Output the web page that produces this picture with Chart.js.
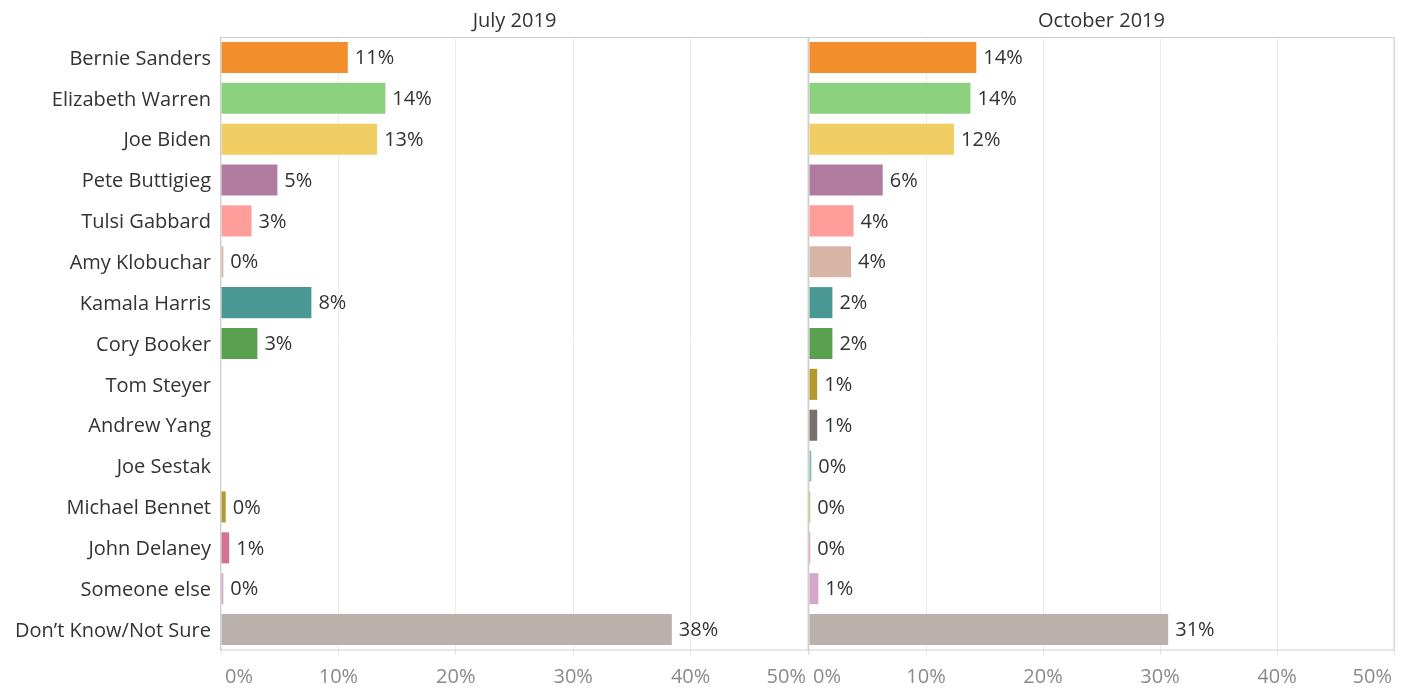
<!DOCTYPE html>
<html>
<head>
<meta charset="utf-8">
<script src="https://cdn.jsdelivr.net/npm/chart.js@4"></script>
<style>
  html, body { margin: 0; padding: 0; background: #fff; }
  #wrap { position: relative; width: 1408px; height: 688px; overflow: hidden; }
  #wrap canvas { position: absolute; top: 0; }
  #c1 { left: 0; }
  #c2 { left: 790px; }
</style>
</head>
<body>
<div id="wrap">
  <canvas id="c1" width="810" height="688"></canvas>
  <canvas id="c2" width="618" height="688"></canvas>
</div>
<script>
const categories = ["Bernie Sanders", "Elizabeth Warren", "Joe Biden", "Pete Buttigieg", "Tulsi Gabbard",
  "Amy Klobuchar", "Kamala Harris", "Cory Booker", "Tom Steyer", "Andrew Yang", "Joe Sestak",
  "Michael Bennet", "John Delaney", "Someone else", "Don\u2019t Know/Not Sure"];
const panelTitles = ["July 2019", "October 2019"];
const july2019 = [10.8, 14.0, 13.3, 4.8, 2.6, 0.2, 7.7, 3.1, null, null, null, 0.4, 0.7, 0.2, 38.4];
const october2019 = [14.3, 13.8, 12.4, 6.3, 3.8, 3.6, 2.0, 2.0, 0.7, 0.7, 0.2, 0.1, 0.1, 0.8, 30.7];
const xTicks = [0, 10, 20, 30, 40, 50];
const barColors = ["#F28E2B", "#8CD17D", "#F1CE63", "#B07AA1", "#FF9D9A", "#D7B5A6", "#499894",
  "#59A14F", "#B6992D", "#79706E", "#86BCB6", "#B6992D", "#D37295", "#D4A6C8", "#BAB0AC"];

const FONT = "'Open Sans', 'DejaVu Sans', sans-serif";

const panelPlugin = {
  id: 'panelDecor',
  beforeDatasetsDraw(chart) {
    const ctx = chart.ctx, a = chart.chartArea;
    ctx.save();
    ctx.strokeStyle = '#d0d0d0';
    ctx.lineWidth = 1;
    ctx.strokeRect(Math.round(a.left) - 0.5, Math.round(a.top) + 0.5, Math.round(a.right - a.left) + 0.5, Math.round(a.bottom - a.top) - 0.5);
    ctx.restore();
  },
  afterDraw(chart, args, opts) {
    const ctx = chart.ctx, a = chart.chartArea;
    const xs = chart.scales.x;
    ctx.save();
    // title
    ctx.fillStyle = '#333333';
    ctx.font = "20px " + FONT;
    ctx.textAlign = 'center';
    ctx.textBaseline = 'middle';
    ctx.fillText(opts.title, (a.left + a.right) / 2, 21);
    // x tick labels (clamped inside panel)
    ctx.fillStyle = '#8a8a8a';
    ctx.font = "20px " + FONT;
    xTicks.forEach(v => {
      const x = xs.getPixelForValue(v);
      const t = v + '%';
      const w = ctx.measureText(t).width;
      let tx = x, al = 'center';
      if (x - w / 2 < a.left + 2) { tx = a.left + 4; al = 'left'; }
      else if (x + w / 2 > a.right - 2) { tx = a.right - 2; al = 'right'; }
      ctx.textAlign = al;
      ctx.fillText(t, tx, 677);
    });
    // value labels
    ctx.fillStyle = '#333333';
    ctx.font = "20px " + FONT;
    ctx.textAlign = 'left';
    const meta = chart.getDatasetMeta(0);
    const data = chart.data.datasets[0].data;
    meta.data.forEach((bar, i) => {
      if (data[i] === null || data[i] === undefined) return;
      ctx.fillText(Math.round(data[i]) + '%', bar.x + 7, bar.y + 1);
    });
    ctx.restore();
  }
};

function makeChart(id, values, title, showYLabels, yWidth, pad) {
  return new Chart(document.getElementById(id), {
    type: 'bar',
    data: {
      labels: categories,
      datasets: [{ data: values, backgroundColor: barColors, borderWidth: 0,
        barPercentage: 0.76, categoryPercentage: 1.0 }]
    },
    options: {
      indexAxis: 'y',
      responsive: false,
      animation: false,
      layout: { padding: pad },
      plugins: { legend: { display: false }, tooltip: { enabled: false }, title: { display: false },
        panelDecor: { title: title } },
      scales: {
        x: {
          min: 0, max: 50,
          ticks: { display: false, stepSize: 10 },
          grid: { color: '#ececec', lineWidth: 1, drawTicks: true, tickLength: 5, tickColor: '#e6e6e6' },
          border: { display: false },
          afterFit: s => { s.height = 38; }
        },
        y: {
          display: true,
          grid: { display: false, drawTicks: false },
          border: { display: false },
          ticks: { display: showYLabels, color: '#333333', font: { family: FONT, size: 20 }, padding: 10, labelOffset: 1.5 },
          afterFit: s => { s.width = yWidth; }
        }
      }
    },
    plugins: [panelPlugin]
  });
}

makeChart('c1', july2019, panelTitles[0], true, 221, { top: 37, right: 2, bottom: 0, left: 0 });
makeChart('c2', october2019, panelTitles[1], false, 19, { top: 37, right: 14, bottom: 0, left: 0 });
</script>
</body>
</html>
